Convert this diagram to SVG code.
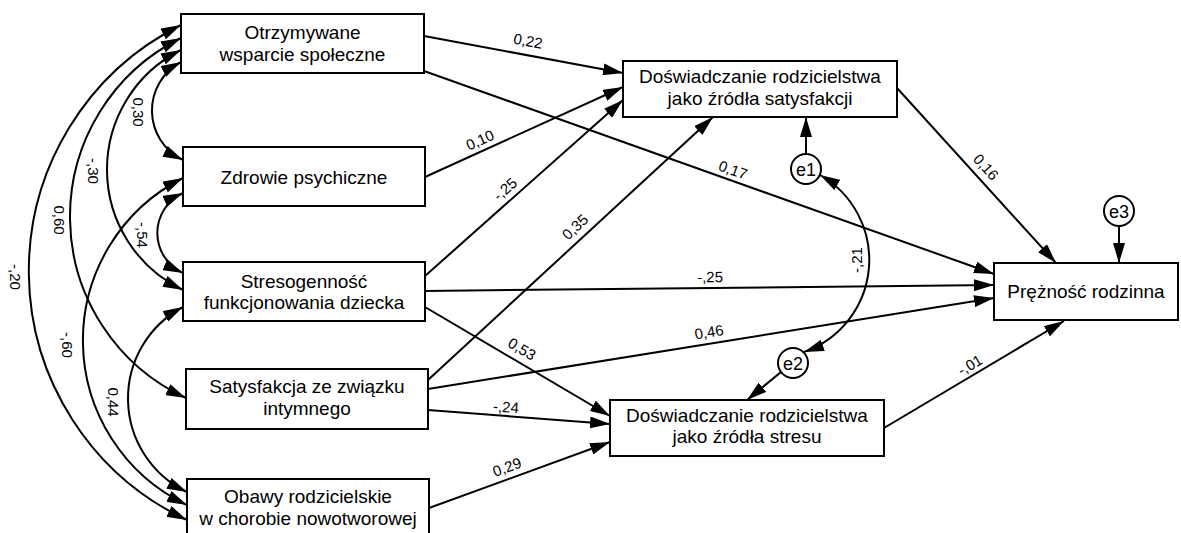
<svg xmlns="http://www.w3.org/2000/svg" width="1181" height="533" viewBox="0 0 1181 533">
  <defs>
    <marker id="ah" viewBox="0 0 20 12" refX="20" refY="6" markerWidth="20" markerHeight="12" orient="auto-start-reverse" markerUnits="userSpaceOnUse">
      <path d="M0,0 L20,6 L0,12 z" fill="#000"/>
    </marker>
    <style>
      .box { fill: #fff; stroke: #000; stroke-width: 2; }
      .err { fill: #fff; stroke: #000; stroke-width: 2; }
      .t { font-family: "Liberation Sans", Arial, sans-serif; font-size: 19px; fill: #000; text-anchor: middle; }
      .et { font-family: "Liberation Sans", Arial, sans-serif; font-size: 18px; fill: #000; text-anchor: middle; }
      .lbl { font-family: "Liberation Sans", Arial, sans-serif; font-size: 15px; fill: #000; text-anchor: middle; }
      .c { fill: none; stroke: #000; stroke-width: 2; }
      .one { marker-end: url(#ah); }
      .two { marker-start: url(#ah); marker-end: url(#ah); }
    </style>
  </defs>
  <rect width="1181" height="533" fill="#fff"/>

  <!-- connectors: correlations, paths and error terms -->
  <g id="connectors">
    <!-- correlations between exogenous variables -->
    <path class="c two" d="M181,62 A55,55 0 0 0 183,160"/>
    <path class="c two" d="M181,50 A133.5,133.5 0 0 0 183,290"/>
    <path class="c two" d="M181,38 A199.5,199.5 0 0 0 186,398"/>
    <path class="c two" d="M181,25 A275,275 0 0 0 187,520"/>
    <path class="c two" d="M183,193 A44,44 0 0 0 183,273"/>
    <path class="c two" d="M183,178 A182,182 0 0 0 187,505"/>
    <path class="c two" d="M183,307 A103.6,103.6 0 0 0 187,492"/>
    <!-- error covariance e1 - e2 -->
    <path class="c two" d="M820,175 A97.7,97.7 0 0 1 804,352"/>

    <!-- directed paths -->
    <line class="c one" x1="424" y1="36" x2="623" y2="73"/>
    <line class="c one" x1="424" y1="71" x2="994" y2="274"/>
    <line class="c one" x1="425" y1="177" x2="623" y2="87"/>
    <line class="c one" x1="425" y1="276" x2="623" y2="100"/>
    <line class="c one" x1="425" y1="291" x2="994" y2="285"/>
    <line class="c one" x1="425" y1="307" x2="610" y2="416"/>
    <line class="c one" x1="428" y1="380" x2="713" y2="117"/>
    <line class="c one" x1="428" y1="389" x2="994" y2="298"/>
    <line class="c one" x1="428" y1="410" x2="610" y2="424"/>
    <line class="c one" x1="429" y1="508" x2="610" y2="442"/>
    <line class="c one" x1="897" y1="88" x2="1056" y2="263"/>
    <line class="c one" x1="884" y1="428" x2="1064" y2="321"/>

    <!-- error terms to their variables -->
    <line class="c one" x1="806" y1="154" x2="806" y2="117"/>
    <line class="c one" x1="781" y1="372" x2="747" y2="400"/>
    <line class="c one" x1="1119" y1="226" x2="1119" y2="263"/>

    <!-- coefficients -->
    <text class="lbl" transform="translate(138,112) rotate(90)" dy=".35em">0,30</text>
    <text class="lbl" transform="translate(93,171) rotate(90)" dy=".35em">-,30</text>
    <text class="lbl" transform="translate(59,220) rotate(90)" dy=".35em">0,60</text>
    <text class="lbl" transform="translate(15,277) rotate(90)" dy=".35em">-,20</text>
    <text class="lbl" transform="translate(142,235) rotate(90)" dy=".35em">-,54</text>
    <text class="lbl" transform="translate(67,345) rotate(90)" dy=".35em">-,60</text>
    <text class="lbl" transform="translate(113,402) rotate(90)" dy=".35em">0,44</text>
    <text class="lbl" transform="translate(857,260) rotate(-90)" dy=".35em">-,21</text>

    <text class="lbl" transform="translate(528,41) rotate(10.5)" dy=".35em">0,22</text>
    <text class="lbl" transform="translate(733,170) rotate(19.6)" dy=".35em">0,17</text>
    <text class="lbl" transform="translate(480,140) rotate(-24.4)" dy=".35em">0,10</text>
    <text class="lbl" transform="translate(505,189) rotate(-41.6)" dy=".35em">-,25</text>
    <text class="lbl" transform="translate(575,227) rotate(-42.9)" dy=".35em">0,35</text>
    <text class="lbl" transform="translate(710,277) rotate(-0.6)" dy=".35em">-,25</text>
    <text class="lbl" transform="translate(709,332) rotate(-9.1)" dy=".35em">0,46</text>
    <text class="lbl" transform="translate(522,349) rotate(30.5)" dy=".35em">0,53</text>
    <text class="lbl" transform="translate(506,407) rotate(4.4)" dy=".35em">-,24</text>
    <text class="lbl" transform="translate(507,467) rotate(-20)" dy=".35em">0,29</text>
    <text class="lbl" transform="translate(986,167) rotate(47.7)" dy=".35em">0,16</text>
    <text class="lbl" transform="translate(970,365) rotate(-30.7)" dy=".35em">-,01</text>
  </g>

  <!-- observed variables -->
  <g id="wsparcie">
    <rect class="box" x="181" y="14" width="243" height="59"/>
    <text class="t" x="302.5" y="39">Otrzymywane</text>
    <text class="t" x="302.5" y="61">wsparcie społeczne</text>
  </g>
  <g id="zdrowie">
    <rect class="box" x="183" y="147" width="242" height="59"/>
    <text class="t" x="304" y="183.5">Zdrowie psychiczne</text>
  </g>
  <g id="stresogennosc">
    <rect class="box" x="183" y="262" width="242" height="59"/>
    <text class="t" x="304" y="287.5">Stresogenność</text>
    <text class="t" x="304" y="309">funkcjonowania dziecka</text>
  </g>
  <g id="zwiazek">
    <rect class="box" x="186" y="369" width="242" height="60"/>
    <text class="t" x="307" y="393">Satysfakcja ze związku</text>
    <text class="t" x="307" y="415">intymnego</text>
  </g>
  <g id="obawy">
    <rect class="box" x="187" y="479" width="242" height="60"/>
    <text class="t" x="308" y="503">Obawy rodzicielskie</text>
    <text class="t" x="308" y="525">w chorobie nowotworowej</text>
  </g>
  <g id="satysfakcja">
    <rect class="box" x="623" y="61" width="274" height="56"/>
    <text class="t" x="760" y="83">Doświadczanie rodzicielstwa</text>
    <text class="t" x="760" y="105">jako źródła satysfakcji</text>
  </g>
  <g id="stres">
    <rect class="box" x="610" y="400" width="274" height="56"/>
    <text class="t" x="747" y="422">Doświadczanie rodzicielstwa</text>
    <text class="t" x="747" y="443">jako źródła stresu</text>
  </g>
  <g id="preznosc">
    <rect class="box" x="994" y="263" width="184" height="57"/>
    <text class="t" x="1086" y="298">Prężność rodzinna</text>
  </g>

  <!-- error terms -->
  <g id="e1">
    <circle class="err" cx="806" cy="169" r="15"/>
    <text class="et" x="806" y="175.5">e1</text>
  </g>
  <g id="e2">
    <circle class="err" cx="793" cy="363" r="15"/>
    <text class="et" x="793" y="369.5">e2</text>
  </g>
  <g id="e3">
    <circle class="err" cx="1119" cy="211" r="15"/>
    <text class="et" x="1119" y="217.5">e3</text>
  </g>
</svg>
